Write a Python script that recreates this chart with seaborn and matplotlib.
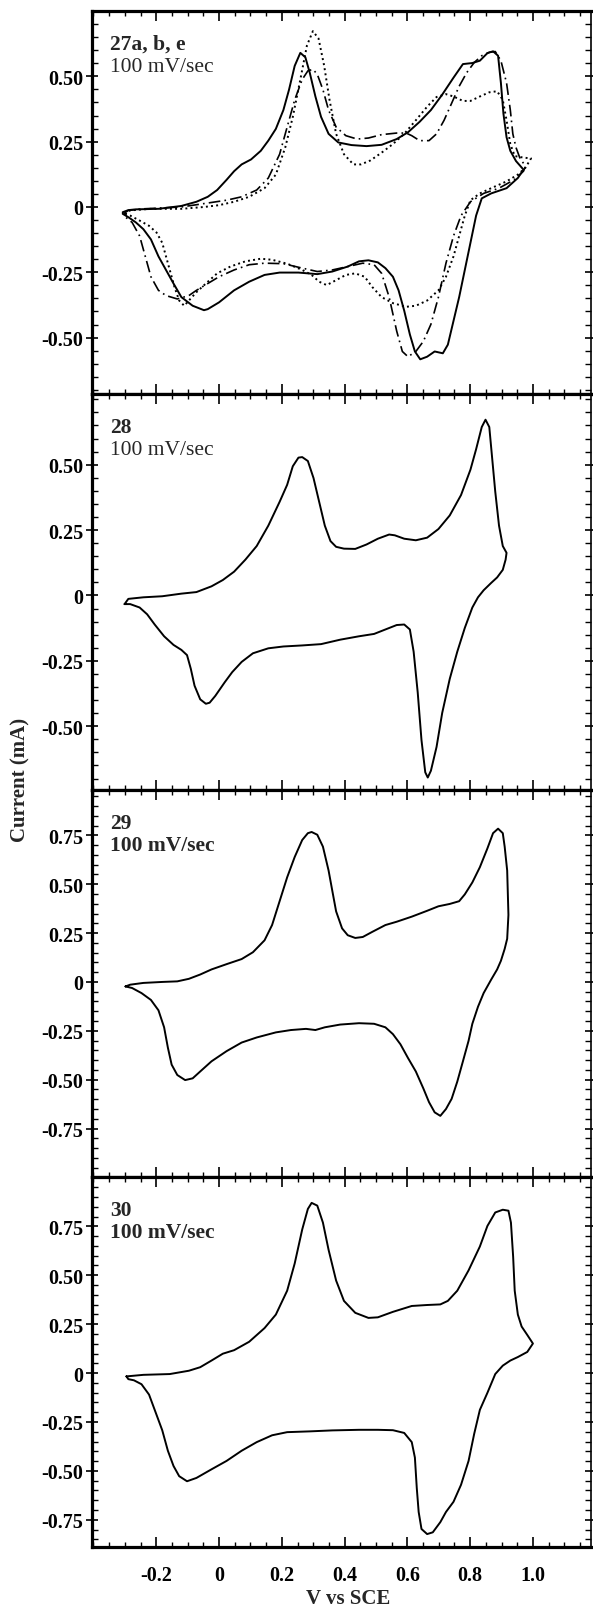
import matplotlib
matplotlib.use("Agg")
import matplotlib.pyplot as plt
import seaborn as sns
from matplotlib.ticker import MultipleLocator

# ---- data (V vs SCE, current in mA) ----
# panel 27a, b, e: three sweeps
v27_solid = [-0.307, -0.289, -0.265, -0.193, -0.120, -0.072, -0.036, -0.006, 0.024, 0.048, 0.072, 0.102,
             0.133, 0.157, 0.181, 0.205, 0.223, 0.241, 0.259, 0.275, 0.289, 0.307, 0.325, 0.349, 0.380,
             0.422, 0.470, 0.518, 0.566, 0.602, 0.639, 0.675, 0.711, 0.747, 0.777, 0.807, 0.831, 0.855,
             0.873, 0.889, 0.898, 0.906, 0.916, 0.928, 0.946, 0.970,
             0.952, 0.916, 0.867, 0.837, 0.819, 0.801, 0.783, 0.765, 0.747, 0.729, 0.713, 0.687, 0.663,
             0.641, 0.624, 0.608, 0.590, 0.572, 0.554, 0.530, 0.506, 0.476, 0.446, 0.410, 0.361, 0.313,
             0.253, 0.193, 0.145, 0.096, 0.048, 0.000, -0.036, -0.048, -0.084, -0.120, -0.145, -0.169,
             -0.193, -0.217, -0.241, -0.265, -0.289, -0.307]
i27_solid = [-0.020, -0.012, -0.009, -0.007, 0.004, 0.020, 0.039, 0.065, 0.104, 0.137, 0.163, 0.182,
             0.215, 0.254, 0.299, 0.371, 0.449, 0.540, 0.590, 0.573, 0.514, 0.423, 0.345, 0.280, 0.247,
             0.237, 0.233, 0.238, 0.260, 0.286, 0.326, 0.371, 0.430, 0.495, 0.547, 0.551, 0.560, 0.589,
             0.596, 0.579, 0.475, 0.358, 0.267, 0.215, 0.176, 0.143,
             0.111, 0.072, 0.052, 0.033, -0.033, -0.137, -0.241, -0.345, -0.436, -0.527, -0.560, -0.553,
             -0.573, -0.583, -0.553, -0.488, -0.397, -0.319, -0.267, -0.234, -0.212, -0.204, -0.208,
             -0.228, -0.247, -0.257, -0.251, -0.251, -0.260, -0.286, -0.319, -0.365, -0.391, -0.395,
             -0.378, -0.345, -0.293, -0.241, -0.189, -0.124, -0.085, -0.059, -0.039, -0.026]

v27_dashdot = [-0.304, -0.289, -0.241, -0.120, -0.048, 0.024, 0.072, 0.120, 0.157, 0.193, 0.217, 0.241,
               0.265, 0.283, 0.299, 0.313, 0.331, 0.349, 0.373, 0.404, 0.440, 0.476, 0.518, 0.566, 0.596,
               0.614, 0.639, 0.669, 0.693, 0.717, 0.741, 0.765, 0.789, 0.813, 0.837, 0.861, 0.880, 0.898,
               0.916, 0.928, 0.936, 0.946, 0.958, 0.976,
               0.970, 0.940, 0.892, 0.843, 0.801, 0.771, 0.747, 0.723, 0.699, 0.675, 0.651, 0.627, 0.602,
               0.584, 0.566, 0.542, 0.518, 0.494, 0.458, 0.410, 0.361, 0.313, 0.265, 0.205, 0.145, 0.096,
               0.048, 0.000, -0.036, -0.072, -0.096, -0.133, -0.169, -0.193, -0.217, -0.235, -0.253,
               -0.277, -0.304]
i27_dashdot = [-0.026, -0.013, -0.007, 0.000, 0.013, 0.026, 0.039, 0.065, 0.111, 0.202, 0.306, 0.410,
               0.488, 0.521, 0.527, 0.508, 0.449, 0.371, 0.306, 0.273, 0.260, 0.264, 0.277, 0.283, 0.283,
               0.273, 0.254, 0.254, 0.280, 0.332, 0.397, 0.462, 0.514, 0.553, 0.579, 0.592, 0.595, 0.560,
               0.475, 0.371, 0.280, 0.228, 0.189, 0.156,
               0.137, 0.104, 0.072, 0.052, 0.020, -0.033, -0.111, -0.215, -0.345, -0.449, -0.514, -0.553,
               -0.573, -0.553, -0.475, -0.345, -0.254, -0.221, -0.215, -0.228, -0.241, -0.247, -0.234,
               -0.217, -0.215, -0.221, -0.241, -0.267, -0.293, -0.319, -0.339, -0.352, -0.339, -0.319,
               -0.267, -0.189, -0.111, -0.059, -0.033]

v27_dotted = [-0.301, -0.283, -0.217, -0.120, -0.048, 0.000, 0.048, 0.096, 0.145, 0.181, 0.211, 0.235,
              0.259, 0.280, 0.299, 0.317, 0.335, 0.352, 0.373, 0.398, 0.428, 0.452, 0.482, 0.518, 0.554,
              0.590, 0.627, 0.663, 0.693, 0.723, 0.747, 0.777, 0.801, 0.831, 0.861, 0.886, 0.904, 0.916,
              0.928, 0.942, 0.970, 0.994,
              0.976, 0.952, 0.916, 0.867, 0.831, 0.801, 0.783, 0.765, 0.747, 0.723, 0.699, 0.663, 0.627,
              0.596, 0.554, 0.518, 0.488, 0.464, 0.434, 0.404, 0.373, 0.343, 0.319, 0.295, 0.265, 0.217,
              0.169, 0.133, 0.084, 0.036, -0.006, -0.042, -0.072, -0.096, -0.111, -0.127, -0.142, -0.157,
              -0.169, -0.181, -0.199, -0.223, -0.253, -0.283, -0.301]
i27_dotted = [-0.026, -0.013, -0.007, -0.007, 0.000, 0.007, 0.020, 0.039, 0.072, 0.124, 0.228, 0.345,
              0.488, 0.618, 0.673, 0.645, 0.540, 0.410, 0.280, 0.202, 0.163, 0.163, 0.178, 0.208, 0.241,
              0.280, 0.332, 0.384, 0.421, 0.432, 0.423, 0.406, 0.406, 0.423, 0.439, 0.443, 0.410, 0.332,
              0.241, 0.195, 0.189, 0.186,
              0.150, 0.124, 0.098, 0.072, 0.052, 0.026, -0.033, -0.111, -0.189, -0.267, -0.319, -0.358,
              -0.378, -0.382, -0.368, -0.345, -0.306, -0.267, -0.254, -0.260, -0.280, -0.299, -0.286,
              -0.260, -0.241, -0.217, -0.202, -0.198, -0.208, -0.228, -0.254, -0.293, -0.326, -0.358,
              -0.378, -0.358, -0.306, -0.241, -0.189, -0.137, -0.098, -0.072, -0.052, -0.033, -0.026]

# panel 28
v28 = [-0.301, -0.289, -0.241, -0.181, -0.120, -0.072, -0.024, 0.012, 0.048, 0.084, 0.120, 0.157, 0.193,
       0.217, 0.235, 0.253, 0.265, 0.283, 0.301, 0.319, 0.337, 0.355, 0.373, 0.398, 0.434, 0.470, 0.506,
       0.542, 0.560, 0.590, 0.627, 0.663, 0.699, 0.735, 0.771, 0.801, 0.819, 0.837, 0.849, 0.861, 0.867,
       0.880, 0.892, 0.904, 0.916,
       0.913, 0.904, 0.886, 0.867, 0.843, 0.825, 0.807, 0.783, 0.759, 0.735, 0.711, 0.693, 0.675, 0.665,
       0.657, 0.645, 0.633, 0.620, 0.608, 0.590, 0.566, 0.530, 0.494, 0.446, 0.386, 0.325, 0.265, 0.205,
       0.157, 0.108, 0.072, 0.042, 0.018, -0.012, -0.030, -0.042, -0.060, -0.078, -0.090, -0.102, -0.120,
       -0.145, -0.175, -0.205, -0.229, -0.253, -0.283, -0.301]
i28 = [-0.033, -0.013, -0.007, -0.003, 0.007, 0.013, 0.035, 0.059, 0.091, 0.137, 0.189, 0.267, 0.358,
       0.423, 0.494, 0.527, 0.529, 0.514, 0.449, 0.358, 0.267, 0.208, 0.186, 0.179, 0.178, 0.195, 0.217,
       0.233, 0.230, 0.217, 0.211, 0.221, 0.254, 0.306, 0.384, 0.481, 0.559, 0.644, 0.672, 0.644, 0.566,
       0.397, 0.267, 0.189, 0.163,
       0.137, 0.098, 0.069, 0.048, 0.020, -0.007, -0.046, -0.124, -0.215, -0.319, -0.449, -0.579, -0.670,
       -0.696, -0.676, -0.553, -0.371, -0.215, -0.130, -0.111, -0.113, -0.130, -0.147, -0.156, -0.169,
       -0.186, -0.191, -0.195, -0.202, -0.221, -0.254, -0.293, -0.332, -0.384, -0.410, -0.414, -0.397,
       -0.345, -0.280, -0.228, -0.208, -0.189, -0.156, -0.111, -0.072, -0.046, -0.033, -0.033]

# panel 29
v29 = [-0.298, -0.283, -0.241, -0.181, -0.133, -0.096, -0.060, -0.024, 0.024, 0.072, 0.108, 0.145, 0.169,
       0.193, 0.217, 0.241, 0.265, 0.283, 0.295, 0.313, 0.331, 0.349, 0.361, 0.373, 0.392, 0.410, 0.434,
       0.458, 0.488, 0.530, 0.566, 0.614, 0.663, 0.699, 0.735, 0.765, 0.783, 0.807, 0.831, 0.855, 0.873,
       0.889, 0.904, 0.910, 0.918, 0.922, 0.918, 0.910, 0.898,
       0.886, 0.867, 0.843, 0.825, 0.807, 0.795, 0.777, 0.759, 0.741, 0.723, 0.705, 0.687, 0.669, 0.651,
       0.627, 0.602, 0.578, 0.554, 0.530, 0.494, 0.446, 0.386, 0.337, 0.307, 0.277, 0.229, 0.181, 0.120,
       0.072, 0.024, -0.024, -0.060, -0.084, -0.108, -0.133, -0.151, -0.163, -0.175, -0.193, -0.217,
       -0.247, -0.277, -0.298]
i29 = [-0.023, -0.014, -0.005, 0.000, 0.003, 0.016, 0.038, 0.064, 0.091, 0.117, 0.152, 0.213, 0.291,
       0.413, 0.535, 0.639, 0.726, 0.761, 0.767, 0.753, 0.692, 0.570, 0.465, 0.361, 0.274, 0.239, 0.225,
       0.230, 0.256, 0.291, 0.308, 0.334, 0.364, 0.387, 0.399, 0.413, 0.448, 0.509, 0.587, 0.683, 0.761,
       0.784, 0.761, 0.692, 0.570, 0.343, 0.221, 0.169, 0.108,
       0.064, 0.012, -0.057, -0.127, -0.214, -0.301, -0.406, -0.510, -0.598, -0.650, -0.685, -0.667,
       -0.615, -0.545, -0.458, -0.389, -0.319, -0.267, -0.232, -0.214, -0.211, -0.218, -0.232, -0.246,
       -0.240, -0.246, -0.258, -0.284, -0.310, -0.354, -0.406, -0.458, -0.493, -0.502, -0.476, -0.423,
       -0.336, -0.232, -0.145, -0.092, -0.057, -0.031, -0.023]

# panel 30
v30 = [-0.295, -0.241, -0.157, -0.096, -0.060, -0.024, 0.012, 0.048, 0.096, 0.145, 0.181, 0.217, 0.241,
       0.265, 0.283, 0.295, 0.313, 0.331, 0.349, 0.373, 0.398, 0.434, 0.476, 0.506, 0.554, 0.614, 0.663,
       0.705, 0.729, 0.759, 0.795, 0.831, 0.855, 0.880, 0.904, 0.922, 0.930, 0.937, 0.942, 0.952, 0.964,
       0.982, 1.000,
       0.982, 0.952, 0.928, 0.904, 0.880, 0.855, 0.831, 0.813, 0.795, 0.771, 0.747, 0.723, 0.705, 0.681,
       0.663, 0.645, 0.636, 0.630, 0.624, 0.614, 0.590, 0.554, 0.506, 0.446, 0.361, 0.289, 0.217, 0.169,
       0.120, 0.072, 0.024, -0.024, -0.072, -0.102, -0.127, -0.145, -0.163, -0.181, -0.205, -0.223,
       -0.247, -0.271, -0.289, -0.295]
i30 = [-0.017, -0.009, -0.005, 0.012, 0.030, 0.064, 0.099, 0.117, 0.160, 0.230, 0.299, 0.421, 0.560,
       0.734, 0.839, 0.870, 0.856, 0.769, 0.630, 0.473, 0.369, 0.308, 0.282, 0.285, 0.313, 0.343, 0.348,
       0.351, 0.369, 0.421, 0.525, 0.647, 0.752, 0.821, 0.835, 0.830, 0.769, 0.595, 0.421, 0.299, 0.238,
       0.195, 0.151,
       0.108, 0.082, 0.064, 0.038, -0.005, -0.101, -0.188, -0.310, -0.449, -0.571, -0.658, -0.710,
       -0.762, -0.814, -0.823, -0.797, -0.710, -0.588, -0.432, -0.353, -0.306, -0.292, -0.290, -0.290,
       -0.293, -0.298, -0.302, -0.318, -0.353, -0.397, -0.449, -0.492, -0.536, -0.553, -0.527, -0.475,
       -0.397, -0.292, -0.188, -0.110, -0.057, -0.037, -0.031, -0.017]

panel_names = ["27a, b, e", "28", "29", "30"]
rate_text = "100 mV/sec"
x_ticks = [-0.2, 0, 0.2, 0.4, 0.6, 0.8, 1.0]
x_ticklabels = ["-0.2", "0", "0.2", "0.4", "0.6", "0.8", "1.0"]
y_ticks_a = [-0.5, -0.25, 0, 0.25, 0.5]
y_ticklabels_a = ["-0.50", "-0.25", "0", "0.25", "0.50"]
y_ticks_b = [-0.75, -0.5, -0.25, 0, 0.25, 0.5, 0.75]
y_ticklabels_b = ["-0.75", "-0.50", "-0.25", "0", "0.25", "0.50", "0.75"]

sns.set_style("ticks")
plt.rcParams["font.family"] = ["Liberation Serif", "DejaVu Serif"]

fig, axes = plt.subplots(4, 1, figsize=(5.93, 16.06), dpi=100, sharex=True,
                         gridspec_kw=dict(height_ratios=[375, 388, 379, 362], hspace=0))
fig.subplots_adjust(left=0.155, right=0.9966, top=0.9925, bottom=0.036)

# curves
sns.lineplot(x=v27_solid, y=i27_solid, sort=False, estimator=None, color="black", lw=1.4, ax=axes[0])
sns.lineplot(x=v27_dashdot, y=i27_dashdot, sort=False, estimator=None, color="black", lw=1.2,
             linestyle=(0, (7, 2.5, 1, 2.5)), ax=axes[0])
sns.lineplot(x=v27_dotted, y=i27_dotted, sort=False, estimator=None, color="black", lw=1.4,
             linestyle=":", ax=axes[0])
sns.lineplot(x=v28, y=i28, sort=False, estimator=None, color="black", lw=1.4, ax=axes[1])
sns.lineplot(x=v29, y=i29, sort=False, estimator=None, color="black", lw=1.4, ax=axes[2])
sns.lineplot(x=v30, y=i30, sort=False, estimator=None, color="black", lw=1.4, ax=axes[3])

ylims = [(-0.716, 0.75), (-0.745, 0.77), (-1.0, 0.98), (-0.89, 1.0)]
for k, ax in enumerate(axes):
    ax.set_xlim(-0.405, 1.185)
    ax.set_ylim(*ylims[k])
    if k < 2:
        ax.set_yticks(y_ticks_a)
        ax.set_yticklabels(y_ticklabels_a)
    else:
        ax.set_yticks(y_ticks_b)
        ax.set_yticklabels(y_ticklabels_b)
    ax.yaxis.set_minor_locator(MultipleLocator(0.05))
    ax.set_xticks(x_ticks)
    ax.xaxis.set_minor_locator(MultipleLocator(0.05))
    ax.tick_params(axis="both", which="both", direction="in", top=True, right=True, colors="black")
    ax.tick_params(axis="x", which="major", length=7, width=1.2)
    ax.tick_params(axis="x", which="minor", length=3.5, width=1.0)
    ax.tick_params(axis="y", which="major", direction="inout", length=9, width=1.2, pad=1.5)
    ax.tick_params(axis="y", which="minor", length=4, width=1.0)
    for lab in ax.get_yticklabels():
        lab.set_fontweight("bold")
        lab.set_fontsize(14.5)
    for side in ["left", "top", "bottom"]:
        ax.spines[side].set_linewidth(2.3)
    ax.spines["right"].set_linewidth(1.2)
    for s in ax.spines.values():
        s.set_color("black")
    ax.set_xlabel("")
    ax.set_ylabel("")
    ax.annotate(panel_names[k], xy=(0, 1), xycoords="axes fraction", xytext=(18, -33),
                textcoords="offset pixels", fontsize=15.5, fontweight="bold", va="center", ha="left")
    ax.annotate(rate_text, xy=(0, 1), xycoords="axes fraction", xytext=(18, -55),
                textcoords="offset pixels", fontsize=15.5, fontweight="bold" if k >= 2 else "normal",
                va="center", ha="left")

axes[-1].set_xticklabels(x_ticklabels)
axes[-1].tick_params(axis="x", which="major", pad=13, labelsize=14.5)
for lab in axes[-1].get_xticklabels():
    lab.set_fontweight("bold")

fig.text(20 / 593, 1 - 780 / 1606, "Current (mA)", rotation=90, ha="center", va="center",
         fontsize=15, fontweight="bold")
fig.text(348 / 593, 1 - 1599 / 1606, "V vs SCE", ha="center", va="center",
         fontsize=15, fontweight="bold")

fig.savefig("out.png", dpi=100)
